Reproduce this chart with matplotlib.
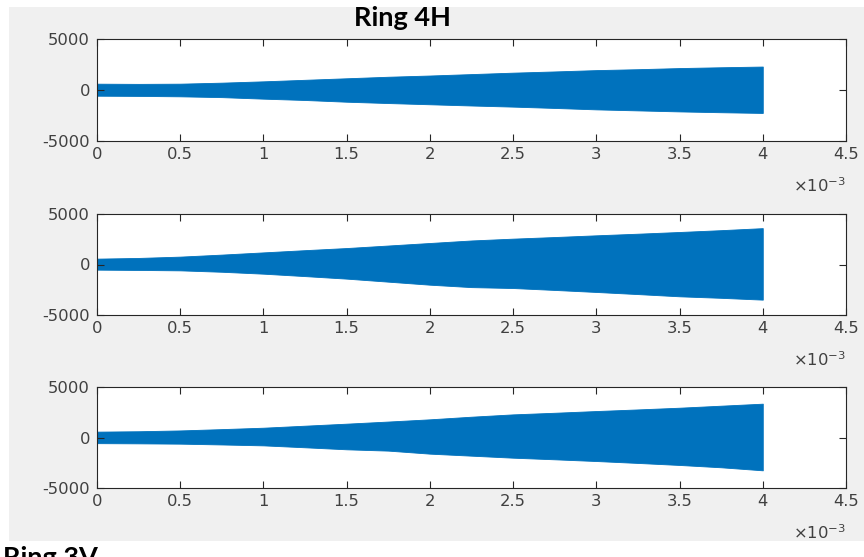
import matplotlib
matplotlib.use("Agg")
import matplotlib.pyplot as plt
from matplotlib.patches import Rectangle
from matplotlib.ticker import FixedLocator, FuncFormatter

plt.rcParams["axes.unicode_minus"] = False
plt.rcParams["font.family"] = ["DejaVu Sans"]
plt.rcParams["mathtext.fontset"] = "dejavusans"

# Time base of the envelope samples, in seconds
t = [i * 0.25e-3 for i in range(17)]

# Signal envelopes (upper / lower extremes) for each channel
ch1_upper = [620, 600, 620, 720, 850, 1000, 1150, 1300, 1420, 1560, 1700, 1820, 1950, 2040, 2150, 2230, 2300]
ch1_lower = [-560, -580, -620, -700, -850, -980, -1150, -1280, -1400, -1520, -1630, -1760, -1900, -2000, -2100, -2180, -2250]

ch2_upper = [580, 650, 780, 980, 1200, 1420, 1630, 1880, 2130, 2380, 2560, 2720, 2890, 3050, 3220, 3400, 3600]
ch2_lower = [-510, -540, -580, -720, -910, -1150, -1400, -1700, -2000, -2240, -2330, -2520, -2720, -2930, -3150, -3300, -3480]

ch3_upper = [580, 620, 700, 830, 970, 1170, 1370, 1580, 1800, 2060, 2290, 2450, 2620, 2780, 2950, 3150, 3350]
ch3_lower = [-560, -580, -610, -690, -780, -970, -1170, -1300, -1600, -1800, -2000, -2160, -2330, -2520, -2720, -2950, -3250]

channels = [(ch1_upper, ch1_lower), (ch2_upper, ch2_lower), (ch3_upper, ch3_lower)]

x_ticks = [i * 0.5e-3 for i in range(10)]
y_ticks = [-5000, 0, 5000]
x_limits = (0, 4.5e-3)
y_limits = (-5000, 5000)

title_text = "Ring 4H"
next_title_text = "Ring 3V"

LINE_COLOR = "#0072BD"
AX_COLOR = "#262626"
LABEL_COLOR = "#404040"
BG = "#F0F0F0"

W, H = 864, 557
fig = plt.figure(figsize=(W / 100, H / 100), dpi=100, facecolor="white")

# Grey window panel behind the axes
fig.patches.append(Rectangle((9 / W, 16 / H), 1 - 9 / W, (541 - 7) / H,
                             transform=fig.transFigure, facecolor=BG,
                             edgecolor="none", zorder=-5))

# Axes boxes in pixel coordinates: (top, bottom)
rows = [(39, 141), (214, 315), (387, 488)]
left_px, right_px = 97, 846

for (top, bot), (up, lo) in zip(rows, channels):
    ax = fig.add_axes([left_px / W, 1 - bot / H, (right_px - left_px) / W, (bot - top) / H])
    ax.set_zorder(1)
    ax.set_facecolor("white")
    ax.fill_between(t, lo, up, color=LINE_COLOR, linewidth=0.6, edgecolor=LINE_COLOR)
    ax.set_xlim(*x_limits)
    ax.set_ylim(*y_limits)
    ax.xaxis.set_major_locator(FixedLocator(x_ticks))
    ax.yaxis.set_major_locator(FixedLocator(y_ticks))
    ax.xaxis.set_major_formatter(FuncFormatter(lambda v, p: f"{v * 1e3:g}"))
    ax.yaxis.set_major_formatter(FuncFormatter(lambda v, p: f"{v:g}"))
    ax.tick_params(direction="in", length=5, width=0.8, color=AX_COLOR,
                   labelcolor=LABEL_COLOR, labelsize=11.8, top=True, right=True)
    ax.tick_params(axis="x", pad=4)
    ax.tick_params(axis="y", pad=5)
    for s in ax.spines.values():
        s.set_color(AX_COLOR)
        s.set_linewidth(0.8)
    ax.text(1.0, -0.44, r"$\times\mathdefault{10^{-3}}$", transform=ax.transAxes,
            ha="right", va="center", fontsize=11.8, color=LABEL_COLOR)

fig.text(402 / W, 1 - 18 / H, title_text, ha="center", va="center",
         fontsize=19.5, fontweight="bold", family=["Lato", "DejaVu Sans"], color="black")
fig.text(3 / W, 1 - 546 / H, next_title_text, ha="left", va="top",
         fontsize=19.5, fontweight="bold", family=["Lato", "DejaVu Sans"], color="black")

fig.savefig("out.png", dpi=100, facecolor="white")
